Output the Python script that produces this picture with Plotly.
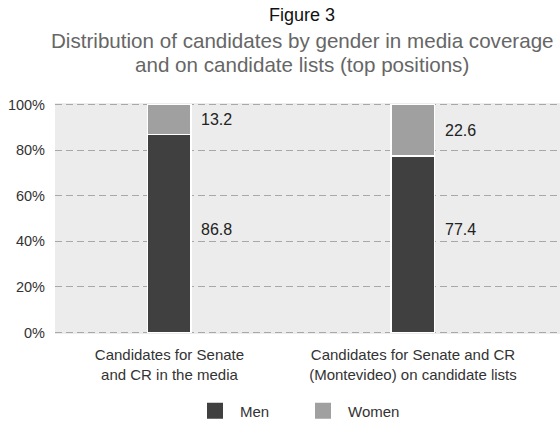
import plotly.graph_objects as go

# Data
categories = [
    "Candidates for Senate<br>and CR in the media",
    "Candidates for Senate and CR<br>(Montevideo) on candidate lists",
]
men = [86.8, 77.4]
women = [13.2, 22.6]
y_ticks = [0, 20, 40, 60, 80, 100]
y_tick_labels = ["0%", "20%", "40%", "60%", "80%", "100%"]

FONT = "Liberation Sans, Arial, sans-serif"
MEN_COLOR = "#404040"
WOMEN_COLOR = "#a0a0a0"
BAR_WIDTH = 0.179

W, H = 560, 424
M_L, M_R, M_T, M_B = 55, 0, 103, 90
PLOT_H = H - M_T - M_B
PX_PER_CAT = 243.5
PX_PER_PCT = 2.28


def py(px_from_top):
    """Convert a pixel row (from the top of the figure) to paper y."""
    return (H - M_B - px_from_top) / PLOT_H


def px(px_from_left):
    """Convert a pixel column to paper x."""
    return (px_from_left - M_L) / (W - M_L - M_R)


x_idx = list(range(len(categories)))

fig = go.Figure()
fig.add_trace(go.Bar(
    x=x_idx, y=men, name="Men", width=BAR_WIDTH,
    marker=dict(color=MEN_COLOR, line=dict(color="white", width=1.5)),
    showlegend=False, hoverinfo="skip",
))
fig.add_trace(go.Bar(
    x=x_idx, y=women, name="Women", width=BAR_WIDTH,
    marker=dict(color=WOMEN_COLOR, line=dict(color="white", width=1.5)),
    showlegend=False, hoverinfo="skip",
))

# Legend entries with larger square swatches
for name, color in [("Men", MEN_COLOR), ("Women", WOMEN_COLOR)]:
    fig.add_trace(go.Scatter(
        x=[None], y=[None], mode="markers", name=name,
        marker=dict(symbol="square", size=16, color=color),
        showlegend=True,
    ))

# Value labels to the right of each bar
MEN_LABEL_Y = 45
label_shift = BAR_WIDTH / 2 * PX_PER_CAT + 8
for i, (m, w) in enumerate(zip(men, women)):
    fig.add_annotation(x=i, y=MEN_LABEL_Y, text=f"{m:.1f}", showarrow=False,
                       xanchor="left", xshift=label_shift,
                       font=dict(family=FONT, size=16, color="#222"))
    fig.add_annotation(x=i, y=m + w / 2, text=f"{w:.1f}", showarrow=False,
                       xanchor="left", xshift=label_shift,
                       font=dict(family=FONT, size=16, color="#222"))

# Title and subtitle
TITLE_X = px(302)
fig.add_annotation(xref="paper", yref="paper", x=TITLE_X, y=py(15),
                   text="Figure 3", showarrow=False, xanchor="center", yanchor="middle",
                   font=dict(family=FONT, size=18, color="#111"))
fig.add_annotation(xref="paper", yref="paper", x=TITLE_X, y=py(40),
                   text="Distribution of candidates by gender in media coverage",
                   showarrow=False, xanchor="center", yanchor="middle",
                   font=dict(family=FONT, size=20.6, color="#666"))
fig.add_annotation(xref="paper", yref="paper", x=TITLE_X, y=py(64),
                   text="and on candidate lists (top positions)",
                   showarrow=False, xanchor="center", yanchor="middle",
                   font=dict(family=FONT, size=20.6, color="#666"))

# pad the value range so the 0% and 100% gridlines stay inside the plot
y_pad = (PLOT_H - 100 * PX_PER_PCT) / 2 / PX_PER_PCT

fig.update_layout(
    width=W, height=H,
    barmode="stack",
    paper_bgcolor="white",
    plot_bgcolor="#ececec",
    margin=dict(l=M_L, r=M_R, t=M_T, b=M_B),
    font=dict(family=FONT, size=15, color="#333"),
    legend=dict(
        orientation="h", traceorder="normal",
        x=190 / W, xanchor="left", xref="container",
        y=1 - 411 / H, yanchor="middle", yref="container",
        font=dict(family=FONT, size=15, color="#333"),
        itemwidth=40, entrywidth=53,
    ),
    xaxis=dict(
        tickmode="array", tickvals=x_idx, ticktext=categories,
        range=[-0.47, -0.47 + (W - M_L - M_R) / PX_PER_CAT],
        showgrid=False, zeroline=False, showline=False,
        ticks="", ticklabelstandoff=10,
        tickfont=dict(family=FONT, size=15, color="#333"),
    ),
    yaxis=dict(
        range=[-y_pad, 100 + y_pad], tickmode="array", tickvals=y_ticks, ticktext=y_tick_labels,
        showgrid=True, gridcolor="#a8a8a8", gridwidth=1.2, griddash="7px,4px",
        zeroline=False, showline=False, ticks="", ticklabelstandoff=9,
        tickfont=dict(family=FONT, size=14.5, color="#333"),
    ),
)

fig.write_html("out.html")
